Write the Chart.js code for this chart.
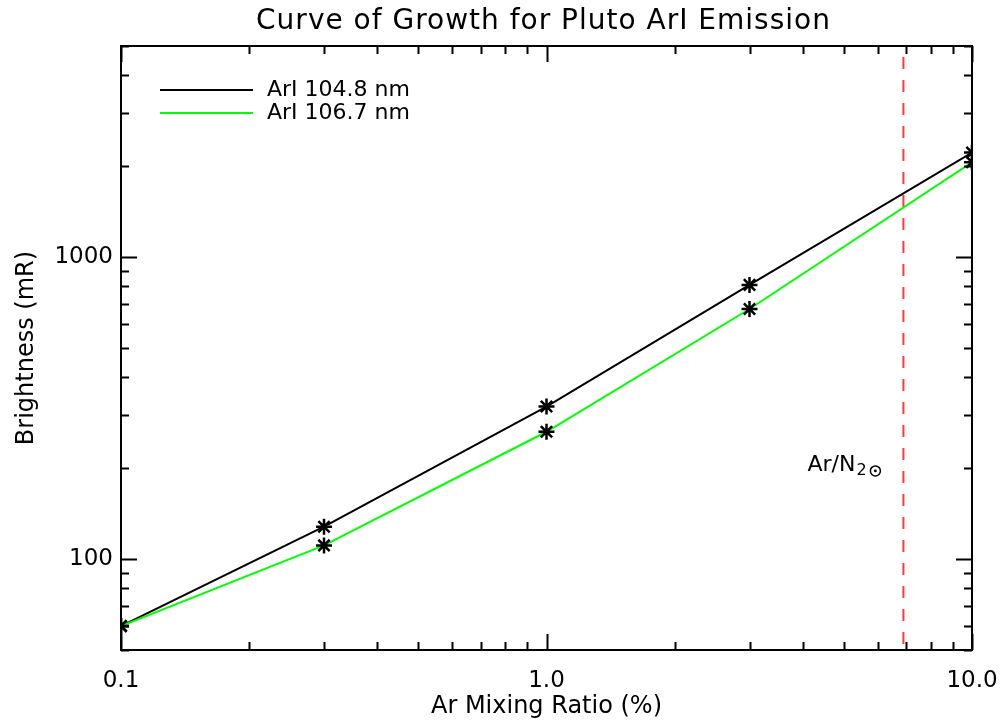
<!DOCTYPE html>
<html>
<head>
<meta charset="utf-8">
<script src="https://cdn.jsdelivr.net/npm/chart.js@4.4.1/dist/chart.umd.min.js"></script>
<style>
  html, body { margin: 0; padding: 0; background: #fff; }
  #wrap { width: 1002px; height: 727px; position: relative; }
</style>
</head>
<body>
<div id="wrap"><canvas id="c" width="1002" height="727"></canvas></div>
<script>
// ---- data ----
const mixingRatio = [0.1, 0.3, 1.0, 3.0, 10.0];           // Ar mixing ratio (%)
const bright1048 = [60, 128, 320, 809, 2220];               // ArI 104.8 nm (mR)
const bright1067 = [60, 111, 264, 673, 2060];               // ArI 106.7 nm (mR)
const solarArN2 = 6.9;                                      // Ar/N2 solar (%)
const seriesLabels = ['ArI 104.8 nm', 'ArI 106.7 nm'];
const xMajorTicks = [0.1, 1.0, 10.0];
const xTickLabels = ['0.1', '1.0', '10.0'];
const yMajorTicks = [100, 1000];
const yTickLabels = ['100', '1000'];
const xRange = [0.1, 10];
const yRange = [50, 5000];

const FONT = "'DejaVu Sans', sans-serif";

function minorTicks(min, max) {
  const out = [];
  for (let d = Math.pow(10, Math.floor(Math.log10(min))); d <= max; d *= 10) {
    for (let k = 1; k <= 9; k++) {
      const v = +(k * d).toPrecision(6);
      if (v >= min * 0.9999 && v <= max * 1.0001) out.push(v);
    }
  }
  return out;
}

const frame = {
  id: 'frame',
  afterDatasetsDraw(chart) {
    const { ctx, chartArea: a, scales: { x, y } } = chart;
    ctx.save();
    ctx.strokeStyle = '#000';
    ctx.lineWidth = 2;
    ctx.strokeRect(a.left, a.top, a.right - a.left, a.bottom - a.top);
    const isMajor = (v, arr) => arr.some(m => Math.abs(m - v) / m < 1e-6);
    ctx.beginPath();
    minorTicks(xRange[0], xRange[1]).forEach(v => {
      const px = Math.round(x.getPixelForValue(v)) + 0.5;
      const L = isMajor(v, xMajorTicks) ? 16 : 8;
      ctx.moveTo(px, a.bottom); ctx.lineTo(px, a.bottom - L);
      ctx.moveTo(px, a.top); ctx.lineTo(px, a.top + L);
    });
    minorTicks(yRange[0], yRange[1]).forEach(v => {
      const py = Math.round(y.getPixelForValue(v)) + 0.5;
      const L = isMajor(v, yMajorTicks) ? 16 : 8;
      ctx.moveTo(a.left, py); ctx.lineTo(a.left + L, py);
      ctx.moveTo(a.right, py); ctx.lineTo(a.right - L, py);
    });
    ctx.stroke();

    // title
    ctx.fillStyle = '#000';
    ctx.textAlign = 'center';
    ctx.textBaseline = 'middle';
    ctx.font = '28px ' + FONT;
    try { ctx.letterSpacing = '1px'; } catch (e) {}
    ctx.fillText('Curve of Growth for Pluto ArI Emission', (a.left + a.right) / 2 - 3, 22);
    try { ctx.letterSpacing = '0px'; } catch (e) {}

    // legend
    const ds = chart.data.datasets;
    ctx.textAlign = 'left';
    ctx.font = '22px ' + FONT;
    [0, 1].forEach(i => {
      const ly = a.top + 44 + i * 23;
      ctx.strokeStyle = ds[i].borderColor;
      ctx.lineWidth = 2;
      ctx.beginPath();
      ctx.moveTo(a.left + 39, ly); ctx.lineTo(a.left + 132, ly);
      ctx.stroke();
      ctx.fillStyle = '#000';
      ctx.fillText(ds[i].label, a.left + 146, ly);
    });

    // annotation
    const ax = x.getPixelForValue(solarArN2);
    const ay = y.getPixelForValue(205);
    ctx.fillStyle = '#000';
    ctx.strokeStyle = '#000';
    ctx.font = '22px ' + FONT;
    ctx.textAlign = 'left';
    ctx.fillText('Ar/N', ax - 96, ay);
    const w = ctx.measureText('Ar/N').width;
    ctx.font = '16px ' + FONT;
    ctx.fillText('2', ax - 96 + w + 1, ay + 6);
    const cx = ax - 96 + w + 20, cy = ay + 6;
    ctx.lineWidth = 1.5;
    ctx.beginPath(); ctx.arc(cx, cy, 5, 0, Math.PI * 2); ctx.stroke();
    ctx.beginPath(); ctx.arc(cx, cy, 1.4, 0, Math.PI * 2); ctx.fill();
    ctx.restore();
  }
};

const toXY = (xs, ys) => xs.map((v, i) => ({ x: v, y: ys[i] }));

new Chart(document.getElementById('c'), {
  type: 'scatter',
  data: {
    datasets: [
      {
        label: seriesLabels[0],
        data: toXY(mixingRatio, bright1048),
        showLine: true, borderColor: '#000000', borderWidth: 2,
        pointStyle: 'star', pointRadius: 8, pointBorderWidth: 2.5,
        pointBorderColor: '#000', pointBackgroundColor: '#000', clip: 0, order: 1
      },
      {
        label: seriesLabels[1],
        data: toXY(mixingRatio, bright1067),
        showLine: true, borderColor: '#00ff00', borderWidth: 2,
        pointStyle: 'star', pointRadius: 8, pointBorderWidth: 2.5,
        pointBorderColor: '#000', pointBackgroundColor: '#000', clip: 0, order: 0
      },
      {
        label: 'Ar/N2 solar',
        data: [{ x: solarArN2, y: yRange[1] }, { x: solarArN2, y: yRange[0] }],
        showLine: true, borderColor: '#ff3a3a', borderWidth: 2,
        borderDash: [12, 11], borderDashOffset: 12,
        pointRadius: 0, clip: 0, order: 2
      }
    ]
  },
  options: {
    responsive: false,
    animation: false,
    layout: { padding: { top: 46, right: 30, left: 0, bottom: 0 } },
    plugins: { legend: { display: false }, title: { display: false }, tooltip: { enabled: false } },
    scales: {
      x: {
        type: 'logarithmic', min: xRange[0], max: xRange[1],
        grid: { display: false, drawTicks: false }, border: { display: false },
        afterBuildTicks: s => { s.ticks = xMajorTicks.map(v => ({ value: v })); },
        afterFit: s => { s.height = 77; s.paddingLeft = 0; s.paddingRight = 0; },
        ticks: {
          autoSkip: false, maxRotation: 0, padding: 17, color: '#000',
          font: { family: FONT, size: 23 },
          callback: (v, i) => xTickLabels[i]
        },
        title: { display: true, text: 'Ar Mixing Ratio (%)', color: '#000',
          font: { family: FONT, size: 24 }, padding: { top: 0, bottom: 6 } }
      },
      y: {
        type: 'logarithmic', min: yRange[0], max: yRange[1],
        grid: { display: false, drawTicks: false }, border: { display: false },
        afterBuildTicks: s => { s.ticks = yMajorTicks.map(v => ({ value: v })); },
        afterFit: s => { s.width = 121; s.paddingTop = 0; s.paddingBottom = 0; },
        ticks: {
          autoSkip: false, padding: 8, color: '#000',
          font: { family: FONT, size: 23 },
          callback: (v, i) => yTickLabels[i]
        },
        title: { display: true, text: 'Brightness (mR)', color: '#000',
          font: { family: FONT, size: 24 }, padding: { top: 12, bottom: 0 } }
      }
    }
  },
  plugins: [frame]
});
</script>
</body>
</html>
